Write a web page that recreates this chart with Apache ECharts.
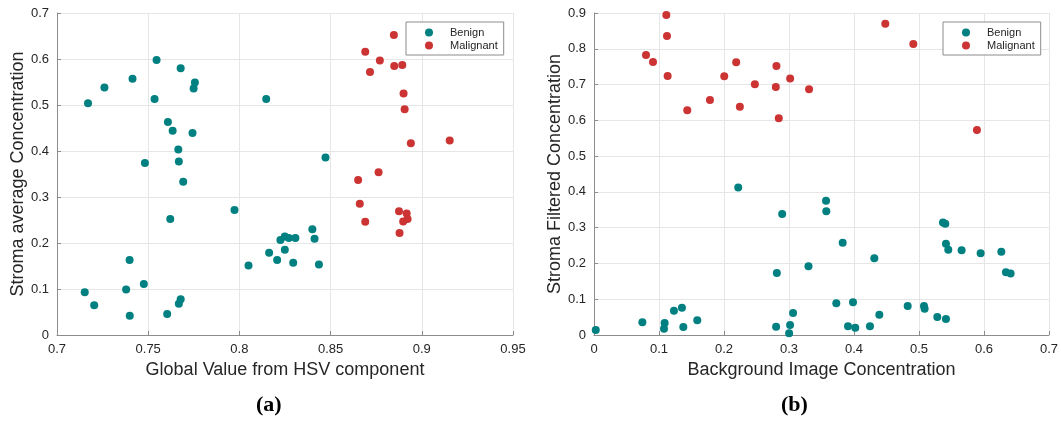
<!DOCTYPE html>
<html>
<head>
<meta charset="utf-8">
<script src="https://cdn.jsdelivr.net/npm/echarts@6/dist/echarts.min.js"></script>
<style>
	html, body { margin: 0; padding: 0; background: #fff; }
	#chart { width: 1061px; height: 421px; }
</style>
</head>
<body>
<div id="chart"></div>
<script>
// (a) Global Value from HSV component vs Stroma average Concentration
const benignA = [
	[0.7546, 0.598], [0.7678, 0.580], [0.7414, 0.557], [0.7756, 0.549], [0.7749, 0.536],
	[0.726, 0.538], [0.717, 0.504], [0.7535, 0.513], [0.8147, 0.513], [0.7608, 0.463],
	[0.7634, 0.444], [0.7743, 0.439], [0.7665, 0.403], [0.7668, 0.377], [0.7482, 0.374],
	[0.7692, 0.333], [0.7973, 0.272], [0.7621, 0.252], [0.7398, 0.163], [0.7476, 0.111],
	[0.7379, 0.099], [0.7152, 0.093], [0.7204, 0.0645], [0.7678, 0.0775], [0.7668, 0.068],
	[0.7399, 0.042], [0.7604, 0.0457], [0.8472, 0.386], [0.840, 0.230], [0.8412, 0.209],
	[0.8225, 0.2065], [0.8249, 0.214], [0.8271, 0.211], [0.8307, 0.211], [0.8249, 0.1855],
	[0.8163, 0.179], [0.8207, 0.163], [0.8295, 0.157], [0.805, 0.151], [0.8436, 0.153]
]
const malignantA = [
	[0.8847, 0.652], [0.869, 0.616], [0.877, 0.597], [0.8849, 0.585], [0.8893, 0.587],
	[0.8716, 0.572], [0.890, 0.525], [0.8906, 0.491], [0.894, 0.417], [0.9153, 0.423],
	[0.8763, 0.354], [0.8651, 0.337], [0.866, 0.2855], [0.8875, 0.269], [0.8917, 0.264],
	[0.8922, 0.252], [0.8898, 0.247], [0.869, 0.246], [0.8878, 0.222]
]

// (b) Background Image Concentration vs Stroma Filtered Concentration
const benignB = [
	[0.0027, 0.014], [0.0744, 0.0354], [0.1087, 0.0336], [0.1077, 0.0177], [0.123, 0.068],
	[0.1353, 0.0765], [0.1374, 0.0224], [0.1589, 0.041], [0.2219, 0.412], [0.2895, 0.338],
	[0.2813, 0.1735], [0.330, 0.192], [0.2802, 0.0233], [0.3017, 0.028], [0.3063, 0.0616],
	[0.3002, 0.0047], [0.357, 0.375], [0.3574, 0.346], [0.3826, 0.258], [0.4313, 0.2146],
	[0.5369, 0.3144], [0.5405, 0.3106], [0.5415, 0.2547], [0.5451, 0.238], [0.5656, 0.237],
	[0.5949, 0.2285], [0.6267, 0.233], [0.6338, 0.1754], [0.641, 0.1716], [0.3728, 0.0886],
	[0.3985, 0.0914], [0.3908, 0.0243], [0.402, 0.0205], [0.4246, 0.0243], [0.439, 0.0569],
	[0.4826, 0.0812], [0.5077, 0.0812], [0.5087, 0.0737], [0.5282, 0.0504], [0.5415, 0.0448]
]
const malignantB = [
	[0.1113, 0.8946], [0.1123, 0.836], [0.080, 0.7827], [0.0908, 0.763], [0.1133, 0.724],
	[0.1435, 0.628], [0.1784, 0.657], [0.2004, 0.723], [0.2188, 0.762], [0.2244, 0.638],
	[0.2475, 0.7006], [0.2807, 0.752], [0.2797, 0.693], [0.2843, 0.606], [0.3018, 0.717],
	[0.3309, 0.6866], [0.4482, 0.870], [0.4913, 0.8134], [0.5892, 0.5728]
]

const teal = "#008080"
const red = "#cc3333"
const textColor = "#262626"
const fontName = "Liberation Sans"

const chart = echarts.init(document.getElementById("chart"))

const valueAxis = (min, max, interval, name, gap) => ({
	type: "value",
	min: min,
	max: max,
	interval: interval,
	name: name,
	nameLocation: "middle",
	nameGap: gap,
	nameTextStyle: { color: textColor, fontSize: 18, fontFamily: fontName },
	axisLine: { show: true, lineStyle: { color: "#8c8c8c", width: 1 } },
	axisTick: { show: true, inside: true, length: 4, lineStyle: { color: "#8c8c8c" } },
	axisLabel: { color: textColor, fontSize: 13, fontFamily: fontName, margin: 8 },
	splitLine: { show: true, lineStyle: { color: "#e6e6e6", width: 1 } }
})

const legendBox = left => ({
	orient: "vertical",
	left: left,
	top: 22,
	data: ["Benign", "Malignant"],
	icon: "circle",
	itemWidth: 8,
	itemHeight: 8,
	itemGap: 2,
	padding: [5, 6, 4, 19],
	borderColor: "#8c8c8c",
	borderWidth: 1,
	backgroundColor: "#fff",
	textStyle: { color: textColor, fontSize: 11, lineHeight: 11, fontFamily: fontName, padding: [0, 0, 0, 12] }
})

const scatter = (name, data, color, idx) => ({
	name: name,
	type: "scatter",
	xAxisIndex: idx,
	yAxisIndex: idx,
	symbolSize: 8,
	itemStyle: { color: color, opacity: 1 },
	data: data
})

const panelLabel = (text, left) => ({
	text: text,
	left: left,
	top: 394,
	padding: 0,
	textStyle: { fontFamily: "Liberation Serif", fontSize: 22, fontWeight: "bold", color: "#000" }
})

const option = {
	backgroundColor: "#fff",
	animation: false,
	title: [panelLabel("(a)", 256), panelLabel("(b)", 781)],
	legend: [legendBox(943), legendBox(943 - 537)],
	grid: [
		{ left: 57, top: 13, width: 456, height: 322 },
		{ left: 594, top: 13, width: 456, height: 322 }
	],
	xAxis: [
		Object.assign(valueAxis(0.7, 0.95, 0.05, "Global Value from HSV component", 24), { gridIndex: 0 }),
		Object.assign(valueAxis(0, 0.7, 0.1, "Background Image Concentration", 24), { gridIndex: 1 })
	],
	yAxis: [
		Object.assign(valueAxis(0, 0.7, 0.1, "Stroma average Concentration", 23), { gridIndex: 0 }),
		Object.assign(valueAxis(0, 0.9, 0.1, "Stroma Filtered Concentration", 23), { gridIndex: 1 })
	],
	series: [
		scatter("Benign", benignA, teal, 0),
		scatter("Malignant", malignantA, red, 0),
		scatter("Benign", benignB, teal, 1),
		scatter("Malignant", malignantB, red, 1)
	]
}

chart.setOption(option)
</script>
</body>
</html>
